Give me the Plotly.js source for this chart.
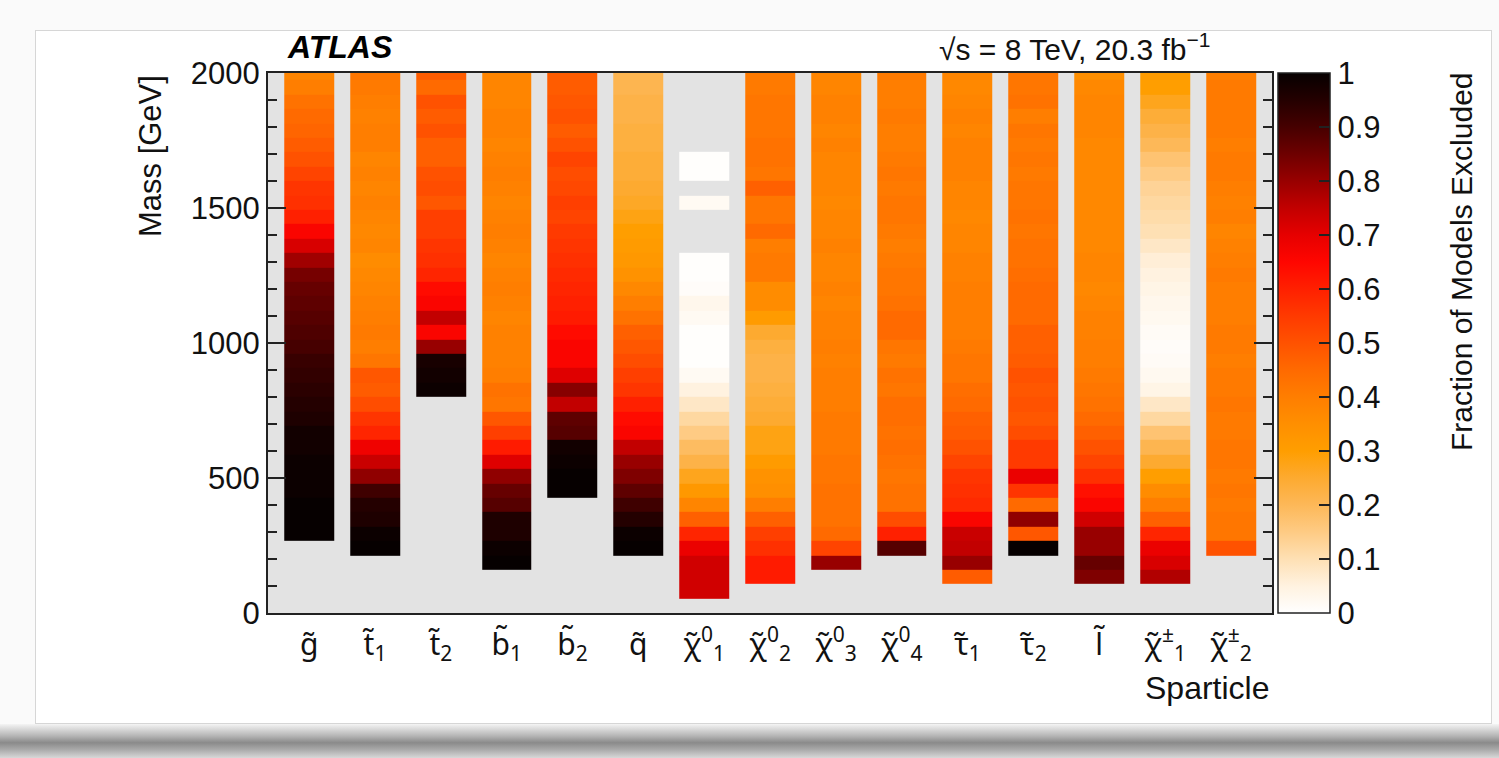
<!DOCTYPE html>
<html>
<head>
<meta charset="utf-8">
<script src="https://cdn.plot.ly/plotly-3.0.1.min.js"></script>
<style>
  html, body { margin:0; padding:0; background:#fafafa; width:1499px; height:758px; overflow:hidden; }
  #card { position:absolute; left:35px; top:30px; width:1455px; height:692px; border:1px solid #d6d6d6; background:#fff; }
  #shadow { position:absolute; left:0; top:724px; width:1499px; height:34px;
            background:linear-gradient(to bottom, #f4f4f4 0%, #b5b5b5 35%, #8a8a8a 55%, #a9a9a9 75%, #d8d8d8 100%); }
  #plot { position:absolute; left:0; top:0; width:1499px; height:758px; }
</style>
</head>
<body>
<div id="shadow"></div>
<div id="card"></div>
<div id="plot"></div>
<script>
// Mass bins: 53.33 GeV wide, bin 0 starts at 0 GeV (38 bins shown, the top one clipped at 2000 GeV)
const MASS_BIN_WIDTH = 2000 / 37.5;

// Sparticle tick labels (tilde via combining U+0303)
const sparticleLabels = [
  'g\u0303', 't\u0303<sub>1</sub>', 't\u0303<sub>2</sub>', 'b\u0303<sub>1</sub>', 'b\u0303<sub>2</sub>', 'q\u0303',
  '\u03c7\u0303<sup>0</sup><sub>1</sub>', '\u03c7\u0303<sup>0</sup><sub>2</sub>', '\u03c7\u0303<sup>0</sup><sub>3</sub>', '\u03c7\u0303<sup>0</sup><sub>4</sub>',
  '\u03c4\u0303<sub>1</sub>', '\u03c4\u0303<sub>2</sub>', 'l\u0303',
  '\u03c7\u0303<sup>\u00b1</sup><sub>1</sub>', '\u03c7\u0303<sup>\u00b1</sup><sub>2</sub>'
];

// Fraction of models excluded per mass bin (index 0 = lowest bin), null = no models
const gluino = [null,null,null,null,null,
  1.0,1.0,1.0,0.99,0.99,0.99,0.98,0.98,0.96,0.95,0.94,0.93,0.92,0.9,0.89,0.88,0.87,0.86,0.84,0.79,0.72,0.66,0.6,0.57,0.56,0.53,0.5,0.48,0.46,0.45,0.43,0.4,0.38];
const stop1 = [null,null,null,null,
  1.0,0.99,0.96,0.95,0.91,0.81,0.74,0.68,0.59,0.56,0.51,0.48,0.49,0.42,0.4,0.41,0.4,0.39,0.38,0.37,0.36,0.38,0.37,0.38,0.39,0.38,0.39,0.38,0.4,0.4,0.39,0.4,0.41,0.42];
const stop2 = [null,null,null,null,null,null,null,null,null,null,null,null,null,null,null,
  0.99,0.98,0.97,0.8,0.66,0.75,0.66,0.64,0.59,0.57,0.56,0.54,0.54,0.49,0.51,0.5,0.47,0.47,0.5,0.48,0.5,0.45,0.48];
const sbottom1 = [null,null,null,
  1.0,0.99,0.96,0.96,0.88,0.86,0.81,0.71,0.61,0.54,0.49,0.42,0.43,0.4,0.39,0.39,0.39,0.38,0.39,0.4,0.39,0.38,0.39,0.4,0.39,0.38,0.39,0.4,0.39,0.38,0.39,0.39,0.38,0.38,0.38];
const sbottom2 = [null,null,null,null,null,null,null,null,
  1.0,1.0,0.99,0.98,0.88,0.87,0.75,0.82,0.71,0.66,0.66,0.64,0.61,0.6,0.59,0.58,0.57,0.56,0.55,0.53,0.54,0.52,0.51,0.53,0.5,0.48,0.5,0.49,0.48,0.48];
const squark = [null,null,null,null,
  1.0,0.99,0.95,0.91,0.87,0.83,0.8,0.75,0.66,0.64,0.6,0.56,0.54,0.51,0.49,0.47,0.43,0.4,0.37,0.34,0.32,0.31,0.3,0.28,0.26,0.25,0.24,0.24,0.23,0.23,0.22,0.22,0.21,0.21];
const neutralino1 = [null,
  0.73,0.73,0.73,0.69,0.59,0.47,0.38,0.32,0.27,0.22,0.19,0.15,0.12,0.08,0.05,0.02,0.005,0.005,0.005,0.02,0.03,0.01,0.005,0.005,
  null,null,null,0.02,null,0.005,0.005,null,null,null,null,null,null];
const neutralino2 = [null,null,
  0.61,0.61,0.57,0.54,0.47,0.4,0.35,0.34,0.31,0.28,0.28,0.25,0.24,0.23,0.22,0.22,0.23,0.25,0.31,0.36,0.36,0.41,0.41,0.4,0.45,0.42,0.42,0.47,0.42,0.43,0.43,0.42,0.42,0.42,0.41,0.41];
const neutralino3 = [null,null,null,
  0.8,0.53,0.45,0.43,0.43,0.43,0.42,0.42,0.41,0.41,0.41,0.4,0.4,0.4,0.39,0.4,0.39,0.39,0.38,0.39,0.38,0.38,0.39,0.38,0.38,0.37,0.38,0.38,0.38,0.39,0.38,0.39,0.39,0.38,0.38];
const neutralino4 = [null,null,null,null,
  0.88,0.6,0.51,0.43,0.43,0.42,0.43,0.44,0.43,0.44,0.44,0.42,0.43,0.41,0.42,0.45,0.45,0.43,0.42,0.42,0.41,0.4,0.41,0.42,0.42,0.41,0.42,0.41,0.4,0.4,0.41,0.4,0.4,0.41];
const stau1 = [null,null,
  0.48,0.8,0.75,0.74,0.66,0.58,0.57,0.56,0.53,0.5,0.48,0.47,0.45,0.44,0.42,0.42,0.41,0.4,0.4,0.4,0.4,0.39,0.39,0.38,0.38,0.37,0.38,0.38,0.39,0.39,0.39,0.38,0.39,0.38,0.37,0.38];
const stau2 = [null,null,null,null,
  1.0,0.49,0.81,0.45,0.56,0.69,0.55,0.55,0.51,0.49,0.5,0.49,0.5,0.48,0.47,0.47,0.45,0.45,0.45,0.44,0.43,0.43,0.42,0.43,0.42,0.42,0.41,0.42,0.41,0.42,0.4,0.43,0.42,0.42];
const slepton = [null,null,
  0.83,0.86,0.8,0.8,0.73,0.66,0.63,0.57,0.53,0.5,0.47,0.45,0.43,0.42,0.41,0.4,0.4,0.39,0.39,0.38,0.37,0.38,0.38,0.37,0.37,0.37,0.37,0.37,0.37,0.37,0.37,0.38,0.38,0.38,0.37,0.35];
const chargino1 = [null,null,
  0.77,0.72,0.69,0.59,0.47,0.4,0.36,0.3,0.25,0.21,0.17,0.12,0.08,0.04,0.025,0.015,0.01,0.015,0.025,0.03,0.04,0.05,0.06,0.08,0.1,0.11,0.12,0.13,0.15,0.17,0.2,0.22,0.24,0.27,0.3,0.31];
const chargino2 = [null,null,null,null,
  0.5,0.42,0.42,0.41,0.42,0.41,0.42,0.42,0.41,0.41,0.42,0.41,0.41,0.4,0.41,0.41,0.4,0.4,0.4,0.41,0.4,0.39,0.38,0.4,0.39,0.4,0.41,0.41,0.4,0.41,0.41,0.41,0.41,0.4];

const columns = [gluino, stop1, stop2, sbottom1, sbottom2, squark, neutralino1, neutralino2, neutralino3, neutralino4, stau1, stau2, slepton, chargino1, chargino2];
const nBins = gluino.length;
const z = [];
for (let k = 0; k < nBins; k++) {
  z.push(columns.map(c => (c[k] === undefined ? null : c[k])));
}

const colorscale = [
  [0.00,'#ffffff'],[0.05,'#fff2e0'],[0.10,'#fee0b4'],[0.15,'#fecb84'],[0.20,'#fdb858'],
  [0.25,'#fdaa30'],[0.30,'#ff9e00'],[0.35,'#ff8f00'],[0.40,'#ff7e00'],[0.45,'#ff6a00'],
  [0.50,'#ff5200'],[0.55,'#ff3a00'],[0.60,'#ff2000'],[0.65,'#ff0600'],[0.70,'#e60000'],
  [0.75,'#c20000'],[0.80,'#980000'],[0.85,'#6e0000'],[0.90,'#460000'],[0.95,'#240000'],[1.00,'#060000']
];

const trace = {
  type: 'heatmap',
  z: z,
  x: sparticleLabels,
  y0: MASS_BIN_WIDTH / 2, dy: MASS_BIN_WIDTH,
  zmin: 0, zmax: 1,
  colorscale: colorscale,
  xgap: 16, ygap: 0,
  hoverongaps: false,
  colorbar: {
    x: 1.006, xanchor: 'left', xref: 'paper',
    y: 0.5, yanchor: 'middle', len: 1, lenmode: 'fraction',
    thickness: 52, thicknessmode: 'pixels',
    xpad: 0, ypad: 0,
    outlinewidth: 1.5, outlinecolor: '#222',
    ticks: 'inside', ticklen: 11, tickwidth: 1.5, tickcolor: '#222',
    tickmode: 'linear', tick0: 0, dtick: 0.1,
    tickfont: { size: 31, color: '#111' }
  }
};

const annotations = [
  { text: '<b><i>ATLAS</i></b>', xref: 'paper', yref: 'paper', x: 0.017, y: 1.048, xanchor: 'left', yanchor: 'middle', showarrow: false, font: { size: 32, color: '#000' } },
  { text: '\u221as = 8 TeV, 20.3 fb<sup>\u22121</sup>', xref: 'paper', yref: 'paper', x: 0.94, y: 1.048, xanchor: 'right', yanchor: 'middle', showarrow: false, font: { size: 30, color: '#111' } },
  { text: 'Sparticle', xref: 'paper', yref: 'paper', x: 1.0, y: -0.139, xanchor: 'right', yanchor: 'middle', showarrow: false, font: { size: 32, color: '#111' } },
  { text: 'Mass [GeV]', xref: 'paper', yref: 'paper', x: -0.1175, y: 1.0, xanchor: 'center', yanchor: 'top', textangle: -90, showarrow: false, font: { size: 31, color: '#111' } },
  { text: 'Fraction of Models Excluded', xref: 'paper', yref: 'paper', x: 1.189, y: 1.006, xanchor: 'center', yanchor: 'top', textangle: -90, showarrow: false, font: { size: 30, color: '#111' } }
];

const layout = {
  width: 1499, height: 758,
  margin: { l: 268, r: 227, t: 73, b: 145 },
  paper_bgcolor: 'rgba(0,0,0,0)',
  plot_bgcolor: '#e3e3e3',
  font: { family: '"Liberation Sans", Arial, sans-serif', color: '#111' },
  showlegend: false,
  xaxis: {
    type: 'category', range: [-0.625, 14.625],
    ticks: '', ticklabelstandoff: 4, showline: true, mirror: true, linecolor: '#222', linewidth: 2,
    showgrid: false, zeroline: false, tickfont: { family: '"Noto Sans", "DejaVu Sans", sans-serif', size: 30, color: '#111' }
  },
  yaxis: {
    range: [0, 2000], tickmode: 'linear', tick0: 0, dtick: 500,
    ticks: 'inside', ticklen: 18, tickwidth: 1.5, tickcolor: '#222',
    minor: { dtick: 100, ticks: 'inside', ticklen: 9, tickwidth: 1.5, tickcolor: '#222' },
    showline: true, mirror: 'ticks', linecolor: '#222', linewidth: 2,
    showgrid: false, zeroline: false, tickfont: { size: 31, color: '#111' }
  },
  annotations: annotations
};

Plotly.newPlot('plot', [trace], layout, { staticPlot: true, displayModeBar: false });
</script>
</body>
</html>
